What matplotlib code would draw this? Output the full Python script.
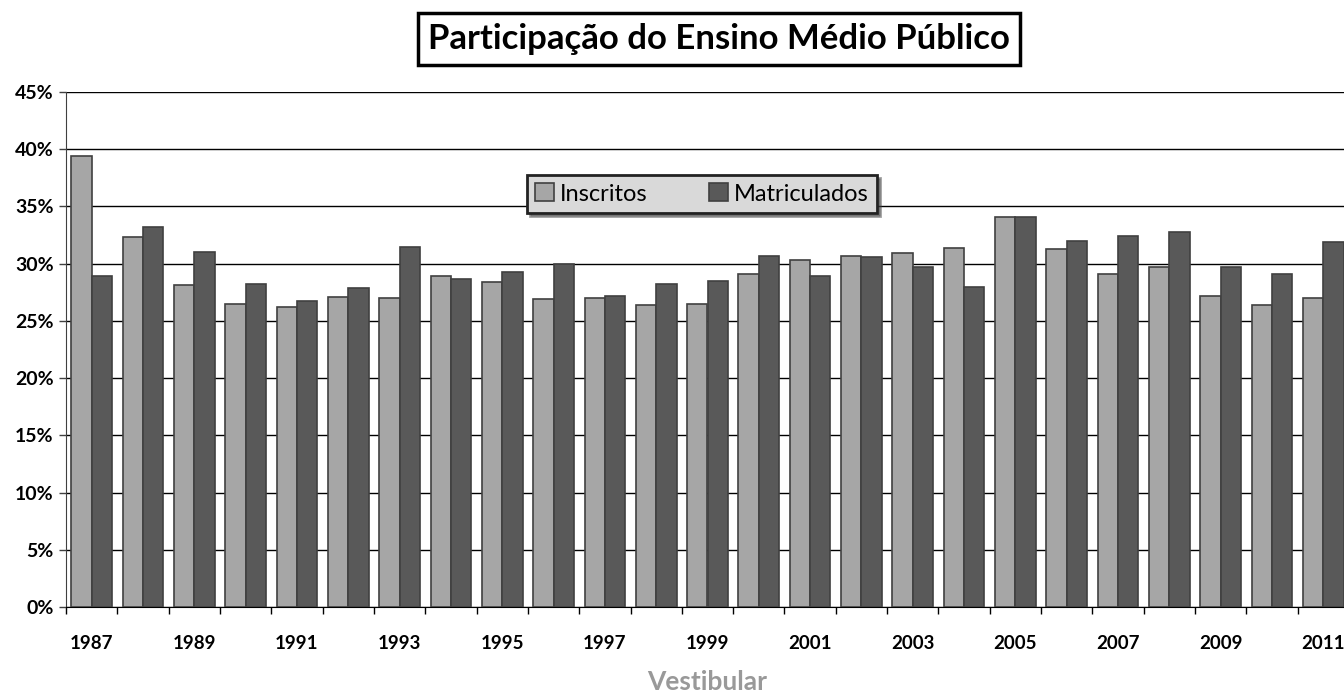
import matplotlib.pyplot as plt
import numpy as np
from matplotlib.ticker import FixedLocator, FuncFormatter

plt.rcParams['font.family'] = ['Lato', 'DejaVu Sans']

anos = list(range(1987, 2012))
inscritos = [39.4, 32.3, 28.1, 26.5, 26.2, 27.1, 27.0, 28.9, 28.4, 26.9,
             27.0, 26.4, 26.5, 29.1, 30.3, 30.7, 30.9, 31.4, 34.1, 31.3,
             29.1, 29.7, 27.2, 26.4, 27.0]
matriculados = [28.9, 33.2, 31.0, 28.2, 26.7, 27.9, 31.5, 28.7, 29.3, 30.0,
                27.2, 28.2, 28.5, 30.7, 28.9, 30.6, 29.7, 28.0, 34.1, 32.0,
                32.4, 32.8, 29.7, 29.1, 31.9]

fig = plt.figure(figsize=(13.44, 6.98), dpi=100)
ax = fig.add_axes([66 / 1344, 91 / 698, 1283 / 1344, 515 / 698])

x = np.arange(len(anos))
w = 0.396
ax.bar(x - w / 2, inscritos, w, color='#a6a6a6', edgecolor='#404040',
       linewidth=1.2, label='Inscritos', zorder=3)
ax.bar(x + w / 2, matriculados, w, color='#595959', edgecolor='#404040',
       linewidth=1.2, label='Matriculados', zorder=3)

ax.set_xlim(-0.5, len(anos) - 0.5)
ax.set_ylim(0, 45)
ax.set_yticks(np.arange(0, 46, 5))
ax.yaxis.set_major_formatter(FuncFormatter(lambda v, p: '%d%%' % v))
ax.grid(axis='y', color='black', linewidth=1, zorder=0)
ax.set_axisbelow(True)

ax.xaxis.set_major_locator(FixedLocator(np.arange(-0.5, len(anos), 1)))
ax.xaxis.set_minor_locator(FixedLocator(x[::2]))
ax.set_xticklabels([], minor=False)
ax.set_xticklabels([str(a) for a in anos[::2]], minor=True)
ax.tick_params(axis='x', which='major', length=5, color='black', width=1)
ax.tick_params(axis='x', which='minor', length=0, pad=20, labelsize=13.5)
for t in ax.get_xticklabels(minor=True):
    t.set_fontweight('bold')
ax.tick_params(axis='y', length=5, width=1, color='#404040', labelsize=14,
               pad=4)
for t in ax.get_yticklabels():
    t.set_fontweight('bold')

for s in ['top', 'right']:
    ax.spines[s].set_visible(False)
ax.spines['left'].set_color('#404040')
ax.spines['bottom'].set_color('black')

ax.set_xlabel('Vestibular', fontsize=19, fontweight='bold', color='#999999',
              labelpad=13)

leg = ax.legend(loc='center', bbox_to_anchor=(0.4957, 0.802), ncol=2,
                fontsize=17, frameon=True, fancybox=False, shadow=True,
                handlelength=0.8, handleheight=0.8, handletextpad=0.25,
                columnspacing=2.6, borderpad=0.35, borderaxespad=0)
leg.get_frame().set_facecolor('#d9d9d9')
leg.get_frame().set_edgecolor('#222222')
leg.get_frame().set_linewidth(2)
leg.get_frame().set_alpha(1)

fig.text(719 / 1344, 1 - 39 / 698, 'Participação do Ensino Médio Público',
         ha='center', va='center', fontsize=25, fontweight='bold',
         bbox=dict(boxstyle='square,pad=0.3', facecolor='white',
                   edgecolor='black', linewidth=2.5))

fig.savefig('out.png', dpi=100)
